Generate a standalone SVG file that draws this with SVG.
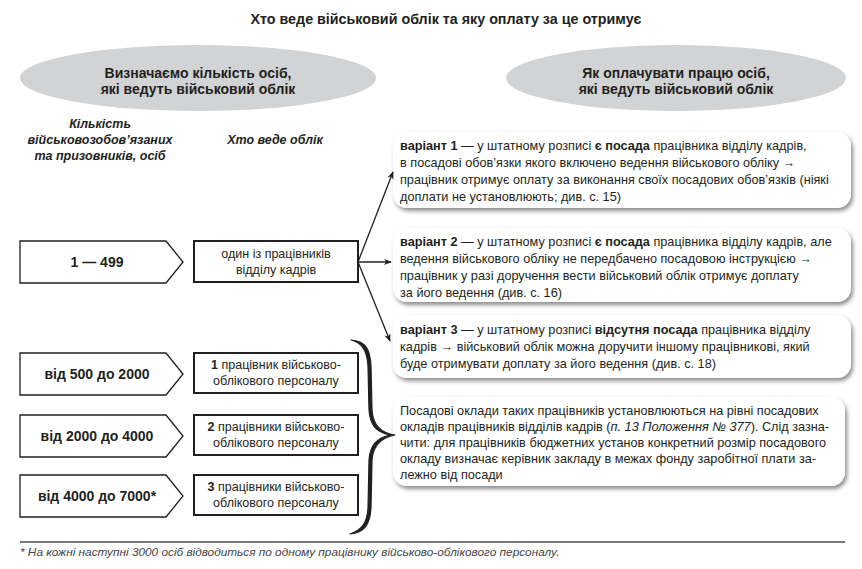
<svg xmlns="http://www.w3.org/2000/svg" width="862" height="569" viewBox="0 0 862 569">
<defs>
<filter id="sh" x="-5%" y="-10%" width="112%" height="130%">
<feDropShadow dx="2" dy="3" stdDeviation="2" flood-color="#000" flood-opacity="0.45"/>
</filter>
<marker id="ah" viewBox="0 0 10 10" refX="9" refY="5" markerWidth="8" markerHeight="8" orient="auto" markerUnits="userSpaceOnUse">
<path d="M0,1 L10,5 L0,9 L3,5 Z" fill="#231f20"/>
</marker>
</defs>
<style>
text{font-family:"Liberation Sans","Noto Sans",sans-serif;fill:#231f20}
.t{font-size:14.3px;font-weight:bold}
.h{font-size:12.5px;font-weight:bold;font-style:italic;text-anchor:middle}
.e{font-size:14px;font-weight:bold;text-anchor:middle}
.p{font-size:14px;font-weight:bold;text-anchor:middle}
.b{font-size:12.5px;text-anchor:middle}
.r{font-size:12.7px}
.ell{fill:#d1d3d4}
.pent{fill:#fff;stroke:#231f20;stroke-width:1.3}
.box{fill:#fff;stroke:#231f20;stroke-width:2}
.rb{fill:#fff;filter:url(#sh)}
.con{stroke:#231f20;stroke-width:1.3;fill:none;marker-end:url(#ah)}
.fn{font-size:11.8px;font-style:italic;fill:#444}
</style>

<text class="t" x="446" y="24" text-anchor="middle">Хто веде військовий облік та яку оплату за це отримує</text>

<g id="ellipse-left">
<ellipse class="ell" cx="198" cy="78" rx="178" ry="33"/>
<text class="e" x="198" y="78">Визначаємо кількість осіб,</text>
<text class="e" x="198" y="94">які ведуть військовий облік</text>
</g>
<g id="ellipse-right">
<ellipse class="ell" cx="676" cy="78" rx="170" ry="33"/>
<text class="e" x="676" y="78">Як оплачувати працю осіб,</text>
<text class="e" x="676" y="94">які ведуть військовий облік</text>
</g>

<g id="head-count">
<text class="h" x="100" y="128">Кількість</text>
<text class="h" x="100" y="144">військовозобов’язаних</text>
<text class="h" x="100" y="160">та призовників, осіб</text>
</g>
<g id="head-who">
<text class="h" x="275" y="144">Хто веде облік</text>
</g>

<g id="range-1-499">
<path class="pent" d="M20,241 H166 L183,262 L166,283 H20 Z"/>
<text class="p" x="97" y="267">1 — 499</text>
</g>
<g id="range-500-2000">
<path class="pent" d="M20,353 H166 L183,374 L166,395 H20 Z"/>
<text class="p" x="97" y="379">від 500 до 2000</text>
</g>
<g id="range-2000-4000">
<path class="pent" d="M20,415 H166 L183,436 L166,457 H20 Z"/>
<text class="p" x="97" y="441">від 2000 до 4000</text>
</g>
<g id="range-4000-7000">
<path class="pent" d="M20,475 H166 L183,496 L166,517 H20 Z"/>
<text class="p" x="97" y="501">від 4000 до 7000*</text>
</g>

<g id="who-hr">
<rect class="box" x="194" y="241" width="164" height="41"/>
<text class="b" x="276" y="258">один із працівників</text>
<text class="b" x="276" y="274">відділу кадрів</text>
</g>
<g id="who-1">
<rect class="box" x="194" y="353" width="164" height="40"/>
<text class="b" x="276" y="369"><tspan font-weight="bold">1</tspan> працівник військово-</text>
<text class="b" x="276" y="385">облікового персоналу</text>
</g>
<g id="who-2">
<rect class="box" x="194" y="415" width="164" height="40"/>
<text class="b" x="276" y="431"><tspan font-weight="bold">2</tspan> працівники військово-</text>
<text class="b" x="276" y="447">облікового персоналу</text>
</g>
<g id="who-3">
<rect class="box" x="194" y="475" width="164" height="40"/>
<text class="b" x="276" y="491"><tspan font-weight="bold">3</tspan> працівники військово-</text>
<text class="b" x="276" y="507">облікового персоналу</text>
</g>

<g id="variant-1">
<rect class="rb" x="393" y="132" width="458" height="76" rx="14"/>
<text class="r" x="400" y="150"><tspan font-weight="bold">варіант 1</tspan> — у штатному розписі <tspan font-weight="bold">є посада</tspan> працівника відділу кадрів,</text>
<text class="r" x="400" y="167">в посадові обов’язки якого включено ведення військового обліку →</text>
<text class="r" x="400" y="184">працівник отримує оплату за виконання своїх посадових обов’язків (ніякі</text>
<text class="r" x="400" y="201">доплати не установлюють; див. с. 15)</text>
</g>
<g id="variant-2">
<rect class="rb" x="393" y="228" width="458" height="74" rx="14"/>
<text class="r" x="400" y="246"><tspan font-weight="bold">варіант 2</tspan> — у штатному розписі <tspan font-weight="bold">є посада</tspan> працівника відділу кадрів, але</text>
<text class="r" x="400" y="263">ведення військового обліку не передбачено посадовою інструкцією →</text>
<text class="r" x="400" y="280">працівник у разі доручення вести військовий облік отримує доплату</text>
<text class="r" x="400" y="297">за його ведення (див. с. 16)</text>
</g>
<g id="variant-3">
<rect class="rb" x="393" y="315" width="458" height="63" rx="14"/>
<text class="r" x="400" y="334"><tspan font-weight="bold">варіант 3</tspan> — у штатному розписі <tspan font-weight="bold">відсутня посада</tspan> працівника відділу</text>
<text class="r" x="400" y="351">кадрів → військовий облік можна доручити іншому працівникові, який</text>
<text class="r" x="400" y="368">буде отримувати доплату за його ведення (див. с. 18)</text>
</g>
<g id="salary-note">
<rect class="rb" x="393" y="397" width="452" height="89" rx="14"/>
<text class="r" x="400" y="415">Посадові оклади таких працівників установлюються на рівні посадових</text>
<text class="r" x="400" y="431">окладів працівників відділів кадрів (<tspan font-style="italic">п. 13 Положення № 377</tspan>). Слід зазна-</text>
<text class="r" x="400" y="447">чити: для працівників бюджетних установ конкретний розмір посадового</text>
<text class="r" x="400" y="463">окладу визначає керівник закладу в межах фонду заробітної плати за-</text>
<text class="r" x="400" y="479">лежно від посади</text>
</g>

<g id="connectors">
<path class="con" d="M358,262 L393,172"/>
<path class="con" d="M358,262 L391,262"/>
<path class="con" d="M358,262 L390,341"/>
<path d="M351,340 C365,341 370,348 371,366 L372,410 C373,425 380,433 395,435 C380,438 373,446 372,460 L371,508 C370,525 364,533 350,534 C362,530 367,523 368,508 L369,460 C370,446 376,438 390,435 C376,432 370,425 369,410 L368,366 C367,350 362,343 351,340 Z" fill="#231f20" stroke="#231f20" stroke-width="1.2" stroke-linejoin="round"/>
</g>

<g id="footnote">
<line x1="20" y1="542" x2="845" y2="542" stroke="#777" stroke-width="2"/>
<text class="fn" x="20" y="556">* На кожні наступні 3000 осіб відводиться по одному працівнику військово-облікового персоналу.</text>
</g>
</svg>
